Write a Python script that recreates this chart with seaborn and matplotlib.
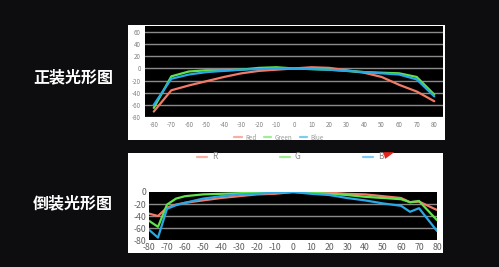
import numpy as np
import pandas as pd
import matplotlib
matplotlib.use("Agg")
import matplotlib.pyplot as plt
import matplotlib.patches as mpatches
import seaborn as sns

# 正装光形图
angles_top = [-80, -70, -60, -50, -40, -30, -20, -10, 0, 10, 20, 30, 40, 50, 60, 70, 80]
red_top = [-71, -36, -28, -21, -14, -8, -4, -2, 0, 2, 1, -3, -7, -14, -27, -38, -54]
green_top = [-65, -13, -5, -3, -3, -2, 1, 2, 0, -1, -2, -4, -6, -7, -8, -14, -43]
blue_top = [-60, -17, -10, -6, -4, -2, -1, 0, 0, -1, -2, -4, -6, -8, -10, -18, -46]

# 倒装光形图
angles_bot = [-80, -75, -70, -65, -60, -50, -40, -30, -20, -10, 0, 10, 20, 30, 40, 50, 60, 65, 70, 80]
r_bot = [-36, -40, -26, -21, -18, -14, -10, -7, -4, -3, 0, 0, -1, -3, -4, -7, -10, -17, -16, -30]
g_bot = [-48, -58, -21, -11, -7, -4, -3, -2, -1, -0.5, 0, -1, -3, -5, -8, -10, -12, -17, -15, -47]
b_bot = [-63, -76, -28, -22, -18, -11, -7, -4, -3, -1, 0, -3, -5, -10, -14, -19, -23, -33, -27, -65]

titles = ["正装光形图", "倒装光形图"]
xticks = list(range(-80, 81, 10))

colors = ["#F27A67", "#62E24C", "#28A9E6"]

df_top = pd.DataFrame({
    "angle": angles_top * 3,
    "value": red_top + green_top + blue_top,
    "series": ["Red"] * 17 + ["Green"] * 17 + ["Blue"] * 17,
})
df_bot = pd.DataFrame({
    "angle": angles_bot * 3,
    "value": r_bot + g_bot + b_bot,
    "series": ["R"] * 20 + ["G"] * 20 + ["B"] * 20,
})

sns.set_theme(style="dark")
plt.rcParams["font.family"] = ["Noto Sans CJK SC", "DejaVu Sans"]
plt.rcParams["axes.unicode_minus"] = False

fig = plt.figure(figsize=(4.99, 2.67), dpi=100)
fig.patch.set_facecolor("#0d0d10")

# white frames behind the charts
fig.patches.append(mpatches.Rectangle((0.2565, 0.4757), 0.6353, 0.4307,
                                      transform=fig.transFigure, facecolor="white",
                                      edgecolor="none", zorder=-1))
fig.patches.append(mpatches.Rectangle((0.2565, 0.0524), 0.6313, 0.3746,
                                      transform=fig.transFigure, facecolor="white",
                                      edgecolor="none", zorder=-1))

# top chart
ax1 = fig.add_axes([0.2906, 0.5618, 0.5972, 0.3408])
sns.lineplot(data=df_top, x="angle", y="value", hue="series",
             palette=colors, linewidth=1.6, ax=ax1)
ax1.set_facecolor("black")
ax1.set_xlim(-85, 85)
ax1.set_ylim(-80, 70)
ax1.set_yticks(range(-80, 61, 20))
ax1.set_xticks(xticks)
for yv in range(-80, 61, 20):
    ax1.axhline(yv, color="#8a8a8a", linewidth=1.0, zorder=0.5)
ax1.grid(False)
ax1.set_xlabel("")
ax1.set_ylabel("")
ax1.tick_params(axis="both", labelsize=4.5, colors="#808080", length=0, pad=3)
for s in ax1.spines.values():
    s.set_visible(False)
leg1 = ax1.legend(loc="upper center", bbox_to_anchor=(0.45, -0.12), ncol=3,
                  frameon=False, fontsize=4.5, handlelength=1.2, columnspacing=1.2,
                  handletextpad=0.5)
for t in leg1.get_texts():
    t.set_color("#999999")
for l in leg1.get_lines():
    l.set_alpha(0.6)

# bottom chart
ax2 = fig.add_axes([0.2986, 0.1011, 0.5772, 0.1798])
sns.lineplot(data=df_bot, x="angle", y="value", hue="series",
             palette=colors, linewidth=1.6, ax=ax2)
ax2.set_facecolor("black")
ax2.set_xlim(-80, 80)
ax2.set_ylim(-80, 0)
ax2.set_yticks([0, -20, -40, -60, -80])
ax2.set_xticks(xticks)
for yv in [-20, -40, -60]:
    ax2.axhline(yv, color="#8a8a8a", linewidth=1.0, zorder=0.5)
ax2.grid(False)
ax2.set_xlabel("")
ax2.set_ylabel("")
ax2.tick_params(axis="both", labelsize=6.3, colors="#606060", length=0, pad=2)
for s in ax2.spines.values():
    s.set_visible(False)
leg2 = ax2.legend(loc="lower center", bbox_to_anchor=(0.49, 1.48), ncol=3,
                  frameon=False, fontsize=6, handlelength=1.2, columnspacing=7.5,
                  handletextpad=0.6)
for t in leg2.get_texts():
    t.set_color("#888888")
for l in leg2.get_lines():
    l.set_alpha(0.6)

# small red arrow mark on the slide
fig.patches.append(mpatches.Polygon([[0.768, 0.43], [0.79, 0.43], [0.772, 0.405]],
                                    closed=True, transform=fig.transFigure,
                                    facecolor="#e8241c", edgecolor="none", zorder=3))

fig.text(0.146, 0.712, titles[0], color="white", fontsize=11.5, fontweight="bold",
         ha="center", va="center")
fig.text(0.146, 0.24, titles[1], color="white", fontsize=11.5, fontweight="bold",
         ha="center", va="center")

fig.savefig("out.png", dpi=100, facecolor=fig.get_facecolor())
